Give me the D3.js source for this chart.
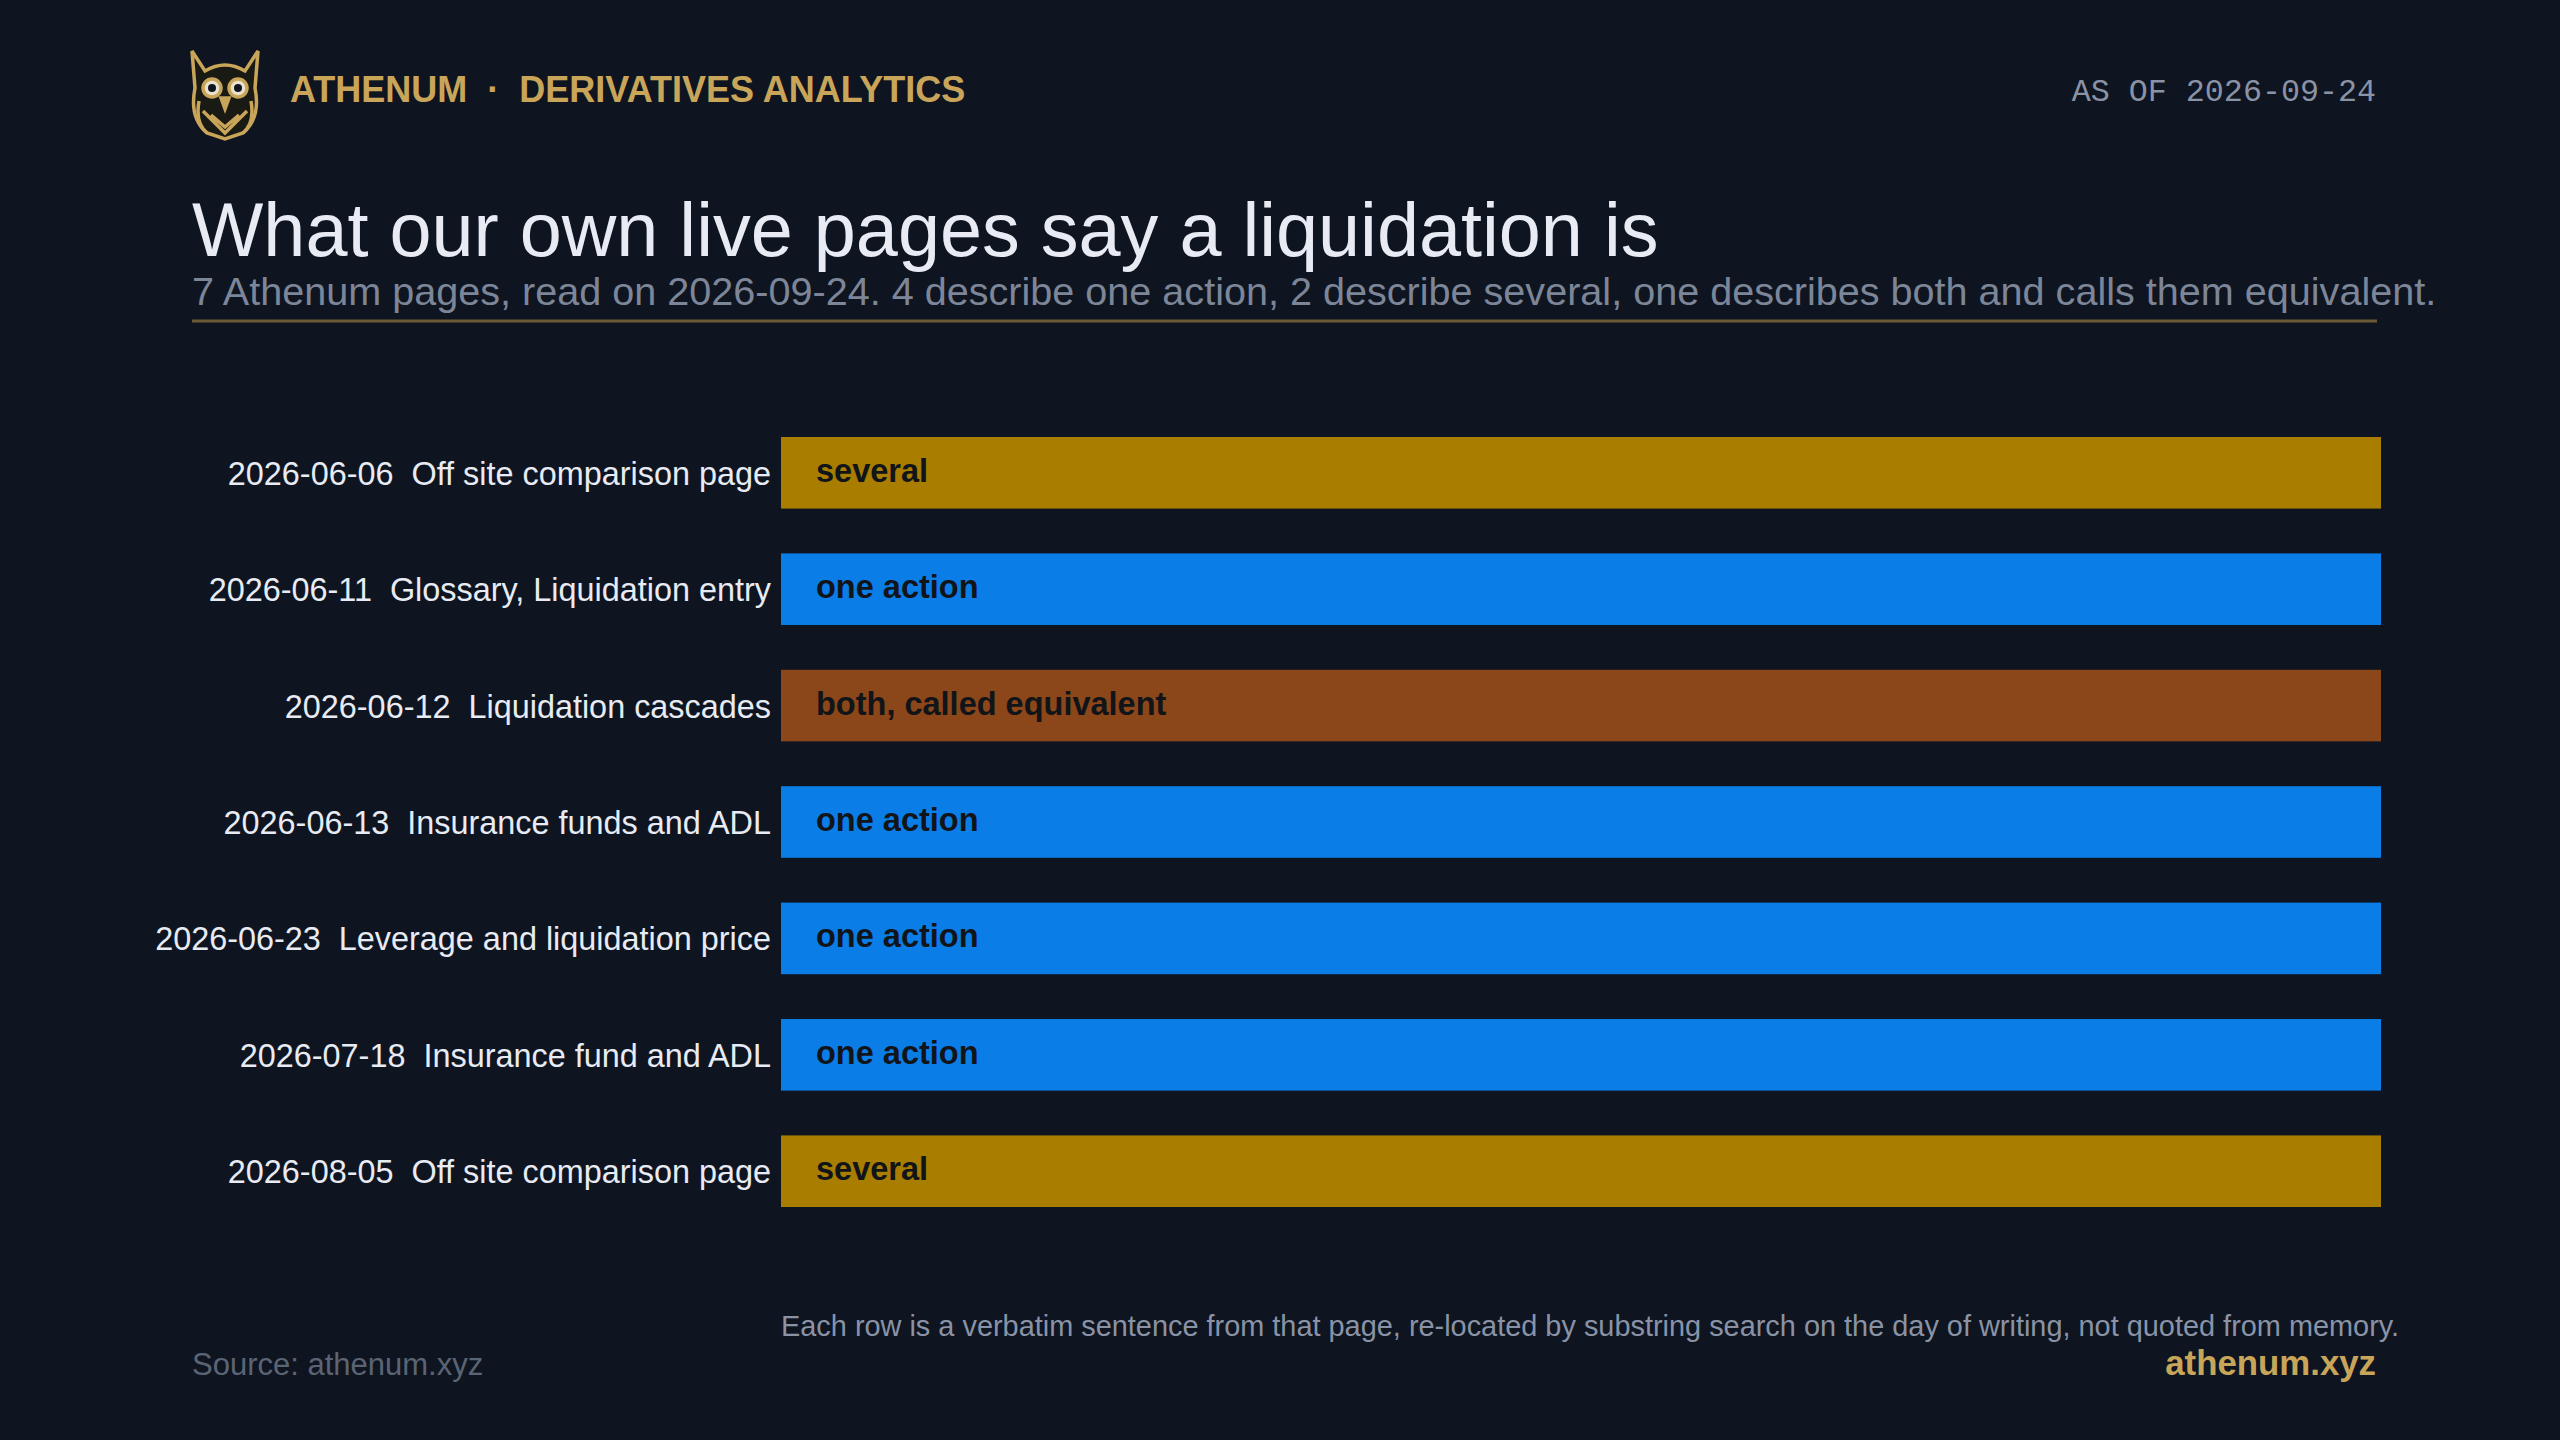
<!DOCTYPE html>
<html><head><meta charset="utf-8">
<script src="https://cdn.jsdelivr.net/npm/d3@7"></script>
<style>html,body{margin:0;background:#0e1520;}svg{display:block;}</style>
</head><body><svg id="c" width="2560" height="1440"></svg>
<script>
const dates = ["2026-06-06","2026-06-11","2026-06-12","2026-06-13","2026-06-23","2026-07-18","2026-08-05"];
const pages = ["Off site comparison page","Glossary, Liquidation entry","Liquidation cascades","Insurance funds and ADL","Leverage and liquidation price","Insurance fund and ADL","Off site comparison page"];
const readings = ["several","one action","both, called equivalent","one action","one action","one action","several"];
const values = [1,1,1,1,1,1,1];
const colorOf = {"several":"#a87d00","one action":"#0a7ee6","both, called equivalent":"#8b4619"};

const svg = d3.select("#c");
svg.append("rect").attr("width",2560).attr("height",1440).attr("fill","#0e1520");
const F = "Liberation Sans, Arial, sans-serif";

// owl logo
const owl = svg.append("g").attr("transform","translate(225,93)").attr("fill","none").attr("stroke","#c9a55a").attr("stroke-width",3.5);
owl.append("path").attr("d","M-33,-42 L-20,-22 Q0,-34 20,-22 L33,-42 L30,-5 Q36,25 18,40 L0,46 L-18,40 Q-36,25 -30,-5 Z").attr("fill","#1a1a14");
owl.append("circle").attr("cx",-13).attr("cy",-5).attr("r",9).attr("fill","#e8e2cf");
owl.append("circle").attr("cx",13).attr("cy",-5).attr("r",9).attr("fill","#e8e2cf");
owl.append("circle").attr("cx",-13).attr("cy",-5).attr("r",4).attr("fill","#0e1520").attr("stroke","none");
owl.append("circle").attr("cx",13).attr("cy",-5).attr("r",4).attr("fill","#0e1520").attr("stroke","none");
owl.append("path").attr("d","M-4,5 L0,16 L4,5 Z").attr("fill","#c9a55a");
owl.append("path").attr("d","M-22,18 L0,40 L22,18 M-14,22 L0,34 L14,22 M-26,8 Q-30,30 -18,40 M26,8 Q30,30 18,40");

svg.append("text").attr("x",290).attr("y",102).attr("font-family",F).attr("font-weight","bold").attr("font-size",36).attr("fill","#c9a55a")
  .text("ATHENUM  ·  DERIVATIVES ANALYTICS").attr("xml:space","preserve");
svg.append("text").attr("x",2376).attr("y",101).attr("text-anchor","end").attr("font-family","Liberation Mono, DejaVu Sans Mono, monospace").attr("font-size",31.7).attr("fill","#8a93a6").text("AS OF 2026-09-24");

svg.append("text").attr("x",192).attr("y",256).attr("font-family",F).attr("font-size",75.6).attr("fill","#e8ebf3").text("What our own live pages say a liquidation is");
svg.append("text").attr("x",192).attr("y",305).attr("font-family",F).attr("font-size",39.6).attr("fill","#7d8698").text("7 Athenum pages, read on 2026-09-24. 4 describe one action, 2 describe several, one describes both and calls them equivalent.");
svg.append("line").attr("x1",192).attr("x2",2377).attr("y1",321).attr("y2",321).attr("stroke","#6b5a35").attr("stroke-width",3);

const x = d3.scaleLinear().domain([0,1]).range([781,2381]);
const y = d3.scaleBand().domain(d3.range(dates.length)).range([437,1207]).paddingInner(0.385).paddingOuter(0);

const rows = svg.append("g").selectAll("g").data(values).join("g");
rows.append("rect").attr("x",x(0)).attr("y",(d,i)=>y(i)).attr("width",d=>x(d)-x(0)).attr("height",y.bandwidth()).attr("fill",(d,i)=>colorOf[readings[i]]);
rows.append("text").attr("x",x(0)+35).attr("y",(d,i)=>y(i)+y.bandwidth()/2+9)
  .attr("font-family",F).attr("font-weight","bold").attr("font-size",32.5).attr("fill","#111418").text((d,i)=>readings[i]);
rows.append("text").attr("x",771).attr("y",(d,i)=>y(i)+y.bandwidth()/2+12).attr("text-anchor","end")
  .attr("font-family",F).attr("font-size",32.4).attr("fill","#e8ebf3").attr("xml:space","preserve").text((d,i)=>dates[i]+"  "+pages[i]);

svg.append("text").attr("x",781).attr("y",1336).attr("font-family",F).attr("font-size",28.9).attr("fill","#8a93a6").text("Each row is a verbatim sentence from that page, re-located by substring search on the day of writing, not quoted from memory.");
svg.append("text").attr("x",192).attr("y",1375).attr("font-family",F).attr("font-size",31).attr("fill","#5b6474").text("Source: athenum.xyz");
svg.append("text").attr("x",2376).attr("y",1375).attr("text-anchor","end").attr("font-family",F).attr("font-weight","bold").attr("font-size",34.8).attr("fill","#c9a55a").text("athenum.xyz");
</script></body></html>
